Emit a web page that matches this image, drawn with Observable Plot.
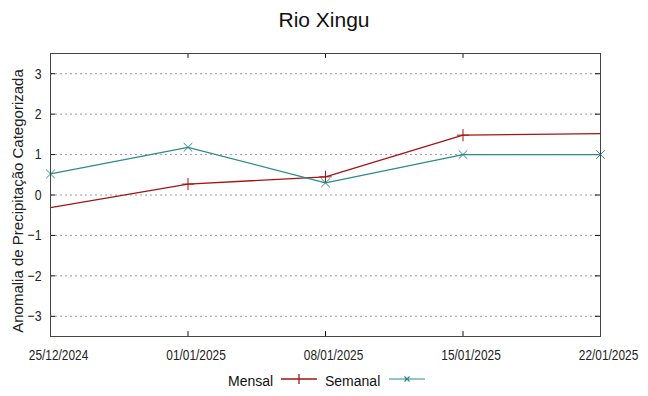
<!DOCTYPE html>
<html>
<head>
<meta charset="utf-8">
<script src="https://cdn.jsdelivr.net/npm/d3@7"></script>
<script src="https://cdn.jsdelivr.net/npm/@observablehq/plot@0.6"></script>
<style>
  html, body { margin: 0; padding: 0; background: #fff; }
  #wrap { position: relative; width: 648px; height: 396px; font-family: "Liberation Sans", Arial, sans-serif; }
  #title { position: absolute; left: 0; top: 0; width: 648px; height: 40px; line-height: 40px; text-align: center; font-size: 21px; color: #111; }
  #chart { position: absolute; left: 0; top: 40px; }
  #legend { position: absolute; left: 0; top: 366px; width: 648px; height: 30px; }
  .li { position: absolute; top: 6px; font-size: 14px; color: #111; line-height: 18px; }
  .ls { position: absolute; top: 8px; }
</style>
</head>
<body>
<div id="wrap">
  <div id="title"></div>
  <div id="chart"></div>
  <div id="legend"></div>
</div>
<script>
// ---- data ----
const title = "Rio Xingu";
const yLabel = "Anomalia de Precipitação Categorizada";
const dates = ["2024-12-25", "2025-01-01", "2025-01-08", "2025-01-15", "2025-01-22"];
const mensal = [-0.31, 0.27, 0.45, 1.48, 1.52];
const semanal = [0.52, 1.18, 0.30, 1.00, 1.00];
const seriesNames = ["Mensal", "Semanal"];
const seriesColors = ["#a31515", "#2e8b8b"];
const yTicks = [-3, -2, -1, 0, 1, 2, 3];
const yDomain = [-3.5, 3.5];

const parse = d3.utcParse("%Y-%m-%d");
const xDates = dates.map(parse);
const fmt = d3.utcFormat("%d/%m/%Y");
const rowsM = xDates.map((d, i) => ({date: d, value: mensal[i], i}));
const rowsS = xDates.map((d, i) => ({date: d, value: semanal[i], i}));

document.getElementById("title").textContent = title;

const x0 = xDates[0], x1 = xDates[xDates.length - 1];
const tickDays = 0.26 * 864e5; // inward tick length in time units
const tickY = 0.12;

const chart = Plot.plot({
  width: 648,
  height: 326,
  marginLeft: 50,
  marginRight: 48,
  marginTop: 13,
  marginBottom: 30,
  style: {fontFamily: "'Liberation Sans', Arial, sans-serif", color: "#222", background: "#fff"},
  x: {type: "utc", domain: [x0, x1], axis: null},
  y: {domain: yDomain, axis: null},
  marks: [
    Plot.gridY(yTicks, {stroke: "#9a9a9a", strokeOpacity: 1, strokeDasharray: "2,3", strokeWidth: 1}),
    // inward ticks (left/right)
    Plot.ruleY(yTicks, {x1: () => x0, x2: () => new Date(+x0 + tickDays), stroke: "#111"}),
    Plot.ruleY(yTicks, {x1: () => new Date(+x1 - tickDays), x2: () => x1, stroke: "#111"}),
    // inward ticks (bottom/top)
    Plot.ruleX(xDates, {y1: yDomain[0], y2: yDomain[0] + tickY, stroke: "#111"}),
    Plot.ruleX(xDates, {y1: yDomain[1] - tickY, y2: yDomain[1], stroke: "#111"}),
    Plot.axisY(yTicks, {tickSize: 0, tickPadding: 9, fontSize: 15, label: null}),
    Plot.axisX(xDates, {tickSize: 0, tickPadding: 13, dx: 8, tickFormat: fmt, fontSize: 14.5, label: null}),
    Plot.text([yLabel], {frameAnchor: "left", textAnchor: "middle", dx: -32, dy: 6, rotate: -90, fontSize: 15, fill: "#222"}),
    Plot.line(rowsM, {x: "date", y: "value", stroke: seriesColors[0], strokeWidth: 1.3}),
    Plot.line(rowsS, {x: "date", y: "value", stroke: seriesColors[1], strokeWidth: 1.3}),
    Plot.dot(rowsM.filter(d => d.i > 0 && d.i < rowsM.length - 1), {x: "date", y: "value", symbol: "plus", r: 4, stroke: seriesColors[0], strokeWidth: 1}),
    Plot.dot(rowsS, {x: "date", y: "value", symbol: "times", r: 4, stroke: seriesColors[1], strokeWidth: 1}),
    Plot.frame({stroke: "#444", strokeWidth: 1})
  ]
});
document.getElementById("chart").appendChild(chart);

// condense tick label glyphs (narrow font look), scaling about their anchor
const xLabelSet = new Set(xDates.map(fmt));
const yLabelSet = new Set(yTicks.map(v => String(v)).concat(yTicks.map(v => v < 0 ? "\u2212" + (-v) : String(v))));
chart.querySelectorAll("text").forEach(t => {
  const s = t.textContent.trim();
  let mode = null;
  if (xLabelSet.has(s)) mode = "center";
  else if (yLabelSet.has(s)) mode = "right";
  if (!mode) return;
  const b = t.getBBox();
  const cx = mode === "center" ? b.x + b.width / 2 : b.x + b.width;
  const tr = t.getAttribute("transform") || "";
  t.setAttribute("transform", `${tr} translate(${cx},0) scale(0.82,1) translate(${-cx},0)`);
});

// legend
const legend = document.getElementById("legend");
const textLeft = [228, 325];
const swLeft = [281, 389];
const symbolPaths = [
  "M18,0V10M0,5H36",
  "M0,5H36M15.5,2.5L20.5,7.5M20.5,2.5L15.5,7.5"
];
seriesNames.forEach((name, k) => {
  const t = document.createElement("div");
  t.className = "li";
  t.style.left = textLeft[k] + "px";
  t.textContent = name;
  legend.appendChild(t);
  const ns = "http://www.w3.org/2000/svg";
  const s = document.createElementNS(ns, "svg");
  s.setAttribute("width", 37); s.setAttribute("height", 11);
  s.setAttribute("class", "ls");
  s.style.left = swLeft[k] + "px";
  const p = document.createElementNS(ns, "path");
  p.setAttribute("d", symbolPaths[k]);
  p.setAttribute("stroke", seriesColors[k]);
  p.setAttribute("fill", "none");
  p.setAttribute("stroke-width", k === 0 ? 1.3 : 1.2);
  s.appendChild(p);
  legend.appendChild(s);
});
</script>
</body>
</html>
